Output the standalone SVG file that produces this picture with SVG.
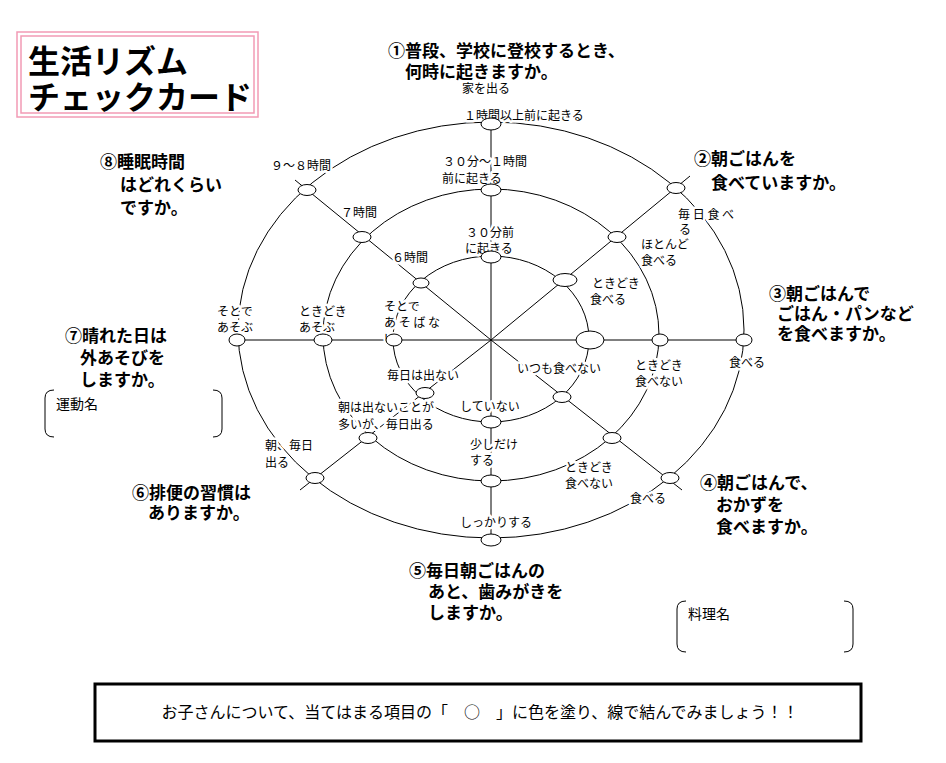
<svg xmlns="http://www.w3.org/2000/svg" width="946" height="763" viewBox="0 0 946 763">
<style>
text{font-family:"Noto Sans CJK JP","Noto Sans CJK SC",sans-serif;fill:#000}
.q{font-size:17px;font-weight:bold}
.l{font-size:12px;paint-order:stroke;stroke:#fff;stroke-width:5px;stroke-linejoin:round}
.ln{fill:none;stroke:#000;stroke-width:1}
.n{fill:#fff;stroke:#000;stroke-width:1}
</style>
<rect width="946" height="763" fill="#fff"/>
<g id="title">
<rect x="17" y="32" width="241" height="85" fill="none" stroke="#f29bb5" stroke-width="1.5"/>
<rect x="21" y="36" width="233" height="77" fill="none" stroke="#f29bb5" stroke-width="1.5"/>
<text x="28" y="73" font-size="32" font-weight="bold">生活リズム</text>
<text x="28" y="109" font-size="32" font-weight="bold">チェックカード</text>
</g>
<g id="connectors">
<ellipse class="ln" cx="491" cy="330" rx="253" ry="208"/>
<ellipse class="ln" cx="491" cy="335" rx="168" ry="146"/>
<ellipse class="ln" cx="491" cy="339" rx="98" ry="83"/>
<line class="ln" x1="237" y1="340" x2="744" y2="340"/>
<line class="ln" x1="491" y1="123" x2="491" y2="538"/>
<line class="ln" x1="491" y1="340" x2="690" y2="176"/>
<line class="ln" x1="491" y1="340" x2="682" y2="490"/>
<line class="ln" x1="491" y1="340" x2="300" y2="490"/>
<line class="ln" x1="491" y1="340" x2="295" y2="180"/>
</g>
<g id="labels">
<text class="l" x="462" y="93">家を出る</text>
<text class="l" x="464" y="120">１時間以上前に起きる</text>
<text class="l" x="443" y="166">３０分～１時間</text>
<text class="l" x="442" y="183">前に起きる</text>
<text class="l" x="466" y="237">３０分前</text>
<text class="l" x="465" y="253">に起きる</text>
<text class="l" x="678" y="219">毎 日 食 べ</text>
<text class="l" x="679" y="234">る</text>
<text class="l" x="641" y="249">ほとんど</text>
<text class="l" x="641" y="265">食べる</text>
<text class="l" x="592" y="288">ときどき</text>
<text class="l" x="590" y="304">食べる</text>
<text class="l" x="729" y="367">食べる</text>
<text class="l" x="517" y="373">いつも食べない</text>
<text class="l" x="635" y="370">ときどき</text>
<text class="l" x="635" y="386">食べない</text>
<text class="l" x="630" y="503">食べる</text>
<text class="l" x="565" y="472">ときどき</text>
<text class="l" x="565" y="488">食べない</text>
<text class="l" x="460" y="411">していない</text>
<text class="l" x="470" y="449">少しだけ</text>
<text class="l" x="470" y="465">する</text>
<text class="l" x="460" y="527">しっかりする</text>
<text class="l" x="265" y="450">朝、毎日</text>
<text class="l" x="265" y="467">出る</text>
<text class="l" x="338" y="412">朝は出ないことが</text>
<text class="l" x="338" y="429">多いが、毎日出る</text>
<text class="l" x="387" y="380">毎日は出ない</text>
<text class="l" x="217" y="316">そとで</text>
<text class="l" x="217" y="332">あそぶ</text>
<text class="l" x="299" y="316">ときどき</text>
<text class="l" x="299" y="332">あそぶ</text>
<text class="l" x="384" y="311">そとで</text>
<text class="l" x="384" y="327">あ そ ば な</text>
<text class="l" x="384" y="343">い</text>
<text class="l" x="271" y="170">９～８時間</text>
<text class="l" x="341" y="217">７時間</text>
<text class="l" x="392" y="262">６時間</text>
</g>
<g id="nodes">
<ellipse class="n" cx="491" cy="124" rx="10" ry="6"/>
<ellipse class="n" cx="491" cy="190" rx="10" ry="6"/>
<ellipse class="n" cx="491" cy="257" rx="10" ry="6"/>
<ellipse class="n" cx="676" cy="188" rx="9" ry="5.5"/>
<ellipse class="n" cx="617" cy="237" rx="9" ry="5.5"/>
<ellipse class="n" cx="565" cy="280" rx="12" ry="6.5"/>
<ellipse class="n" cx="744" cy="340" rx="8" ry="6"/>
<ellipse class="n" cx="660" cy="340" rx="8" ry="6"/>
<ellipse class="n" cx="590" cy="340" rx="14" ry="9"/>
<ellipse class="n" cx="562" cy="397" rx="9" ry="5.5"/>
<ellipse class="n" cx="612" cy="438" rx="9" ry="5.5"/>
<ellipse class="n" cx="670" cy="478" rx="9" ry="5.5"/>
<ellipse class="n" cx="491" cy="422" rx="10" ry="6"/>
<ellipse class="n" cx="491" cy="481" rx="10" ry="6"/>
<ellipse class="n" cx="491" cy="540" rx="10" ry="6"/>
<ellipse class="n" cx="315" cy="478" rx="9" ry="5.5"/>
<ellipse class="n" cx="368" cy="438" rx="9" ry="5.5"/>
<ellipse class="n" cx="425" cy="393" rx="9" ry="5.5"/>
<ellipse class="n" cx="237" cy="340" rx="8" ry="6"/>
<ellipse class="n" cx="323" cy="340" rx="9" ry="6"/>
<ellipse class="n" cx="394" cy="340" rx="8" ry="6"/>
<ellipse class="n" cx="307" cy="190" rx="9" ry="5.5"/>
<ellipse class="n" cx="362" cy="237" rx="9" ry="5.5"/>
<ellipse class="n" cx="421" cy="283" rx="8" ry="5"/>
</g>
<g id="questions">
<text class="q" x="388" y="57">①普段、学校に登校するとき、</text>
<text class="q" x="405" y="78">何時に起きますか。</text>
<text class="q" x="694" y="165">②朝ごはんを</text>
<text class="q" x="711" y="189">食べていますか。</text>
<text class="q" x="769" y="300">③朝ごはんで</text>
<text class="q" x="777" y="320">ごはん・パンなど</text>
<text class="q" x="777" y="340">を食べますか。</text>
<text class="q" x="700" y="489">④朝ごはんで、</text>
<text class="q" x="716" y="511">おかずを</text>
<text class="q" x="716" y="533">食べますか。</text>
<text class="q" x="409" y="577">⑤毎日朝ごはんの</text>
<text class="q" x="428" y="598">あと、歯みがきを</text>
<text class="q" x="428" y="619">しますか。</text>
<text class="q" x="132" y="499">⑥排便の習慣は</text>
<text class="q" x="148" y="519">ありますか。</text>
<text class="q" x="65" y="342">⑦晴れた日は</text>
<text class="q" x="80" y="364">外あそびを</text>
<text class="q" x="80" y="386">しますか。</text>
<text class="q" x="100" y="168">⑧睡眠時間</text>
<text class="q" x="120" y="191">はどれくらい</text>
<text class="q" x="120" y="214">ですか。</text>
</g>
<g id="boxes">
<path class="ln" d="M54,390 Q45,390 45,398 V429 Q45,437 54,437 M213,390 Q222,390 222,398 V429 Q222,437 213,437"/>
<text x="56" y="409" font-size="14">運動名</text>
<path class="ln" d="M686,601 Q677,601 677,609 V644 Q677,652 686,652 M844,601 Q853,601 853,609 V644 Q853,652 844,652"/>
<text x="688" y="619" font-size="14">料理名</text>
<rect x="95" y="684" width="766" height="57" fill="none" stroke="#000" stroke-width="3"/>
<text x="480" y="718" font-size="16" text-anchor="middle">お子さんについて、当てはまる項目の「　○　」に色を塗り、線で結んでみましょう！！</text>
</g>
</svg>
